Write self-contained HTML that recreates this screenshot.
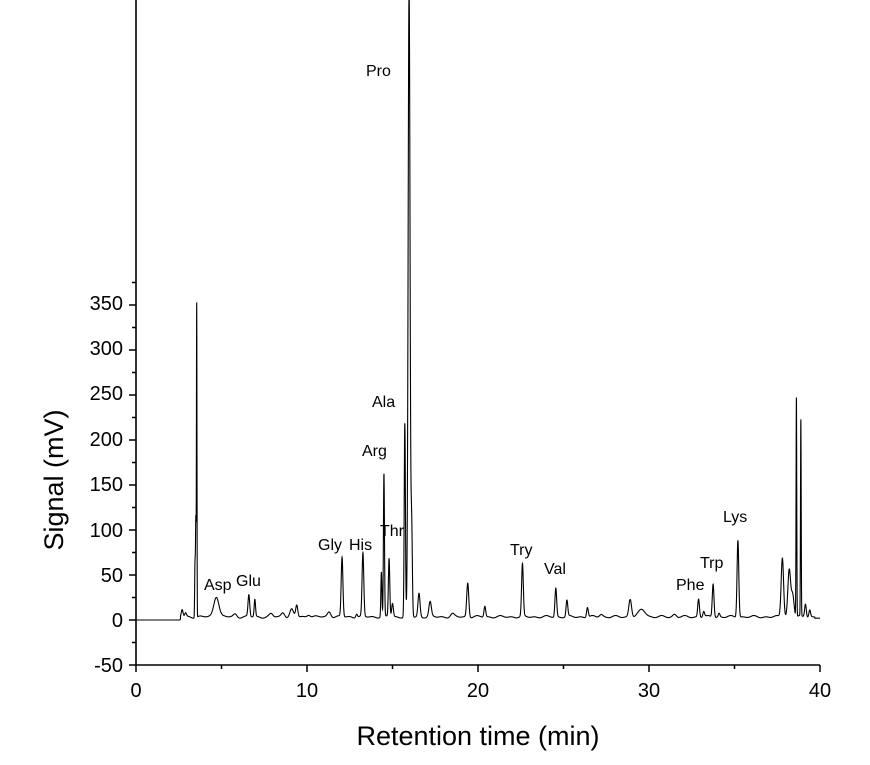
<!DOCTYPE html><html><head><style>body{margin:0;background:#fff}svg{display:block}text{font-family:"Liberation Sans",Arial,sans-serif;fill:#000}</style></head><body>
<svg id="s" width="870" height="765" xmlns="http://www.w3.org/2000/svg">
<g stroke="#000" stroke-width="1.6" fill="none">
<line x1="136" y1="0" x2="136" y2="665"/><line x1="136" y1="665" x2="820" y2="665"/>
</g>
<g id="ticks" stroke="#000" stroke-width="1.5"></g>
<g font-size="20" text-anchor="end">
<text x="123" y="672">-50</text><text x="123" y="627">0</text><text x="123" y="582">50</text><text x="123" y="537">100</text><text x="123" y="491">150</text><text x="123" y="446">200</text><text x="123" y="400">250</text><text x="123" y="355">300</text><text x="123" y="310">350</text>
</g>
<g font-size="20" text-anchor="middle">
<text x="136" y="697">0</text><text x="307" y="697">10</text><text x="478" y="697">20</text><text x="649" y="697">30</text><text x="820" y="697">40</text>
</g>
<text x="478" y="745" font-size="27" text-anchor="middle">Retention time (min)</text>
<text transform="translate(63,480) rotate(-90)" font-size="27" text-anchor="middle">Signal (mV)</text>
<g font-size="16">
<text x="366" y="76">Pro</text><text x="372" y="407">Ala</text><text x="362" y="456">Arg</text><text x="380" y="536">Thr</text><text x="318" y="550">Gly</text><text x="349" y="550">His</text><text x="510" y="555">Try</text><text x="544" y="574">Val</text><text x="204" y="590">Asp</text><text x="236" y="586">Glu</text><text x="676" y="590">Phe</text><text x="700" y="568">Trp</text><text x="723" y="522">Lys</text>
</g>
<path id="tr" fill="none" stroke="#000" stroke-width="1.1"/>
</svg>
<script>
var t=document.getElementById('ticks'),h='';
function X(m){return 136+m*17.1}function Y(v){return 620-v*0.9}
for(var v=-50;v<=375;v+=25){var y=Y(v),l=(v%50==0)?7:4;h+='<line x1="'+(136-l)+'" y1="'+y+'" x2="136" y2="'+y+'"/>';}
for(var m=0;m<=40;m+=5){var x=X(m),l=(m%10==0)?7:4;h+='<line x1="'+x+'" y1="665" x2="'+x+'" y2="'+(665+l)+'"/>';}
t.innerHTML=h;
var P=[[2.7,8,.05],[2.9,4,.05],[3.45,60,.02],[3.5,110,.02],[3.55,345,.015],[4.7,23,.15],[5.8,3,.1],[6.6,24,.05],[6.95,19,.04],[7.9,3,.1],[8.6,5,.1],[9.1,8,.1],[9.4,13,.06],[10.1,3,.1],[11.3,6,.1],[12.05,66,.05],[12.9,4,.05],[13.27,70,.05],[14.35,50,.03],[14.5,158,.03],[14.8,65,.04],[15.0,15,.05],[15.72,215,.035],[15.97,700,.055],[16.12,100,.04],[16.55,26,.06],[17.2,16,.07],[18.5,3,.1],[19.4,38,.06],[20.4,12,.05],[22.6,58,.05],[24.55,32,.05],[25.2,18,.05],[26.4,11,.05],[27.2,3,.1],[28.9,20,.08],[29.6,8,.2],[31.5,3,.1],[32.9,20,.05],[33.2,6,.05],[33.75,37,.05],[34.1,4,.05],[35.2,86,.05],[37.8,66,.07],[38.2,52,.08],[38.4,25,.08],[38.62,243,.02],[38.88,218,.02],[39.15,15,.05],[39.4,8,.05]];
var d='';
for(var m=0;m<=40;m+=0.005){var v=0;if(m>2.6)v=3.5+1.5*Math.sin(m*7)*Math.sin(m*2.3);if(m>39.7)v=2;for(var i=0;i<P.length;i++){var p=P[i],z=(m-p[0])/p[2];if(Math.abs(z)<6)v+=p[1]*Math.exp(-z*z/2);}
var y=Math.max(0,Y(v));d+=(d?'L':'M')+X(m).toFixed(2)+' '+y.toFixed(2);}
document.getElementById('tr').setAttribute('d',d);
</script>
</body></html>
